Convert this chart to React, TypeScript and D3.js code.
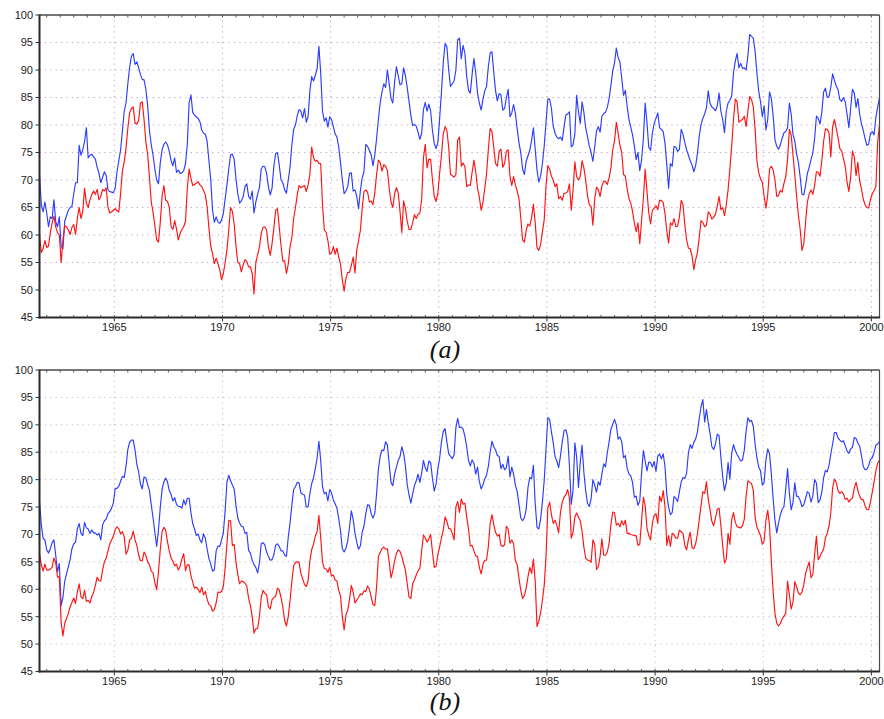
import React from "react";
import * as d3 from "d3";

// Monthly series, July 1961 through May 2000 (467 values each).
const START_YEAR = 1961.5;

const blueA: number[] = [
  71, 65.5, 64.2, 66, 64, 61.5, 63.3, 63, 66.4, 62.4,
  61.5, 63.3, 58, 57.5, 62.5, 63.5, 64.5, 65, 65.2, 67.5,
  69.5, 69.5, 76.3, 74.5, 75.5, 77, 79.5, 74, 74.5, 74.7,
  74.2, 73.8, 72.3, 71.2, 69.5, 70.5, 71.5, 70.8, 68.2, 67.9,
  67.8, 67.7, 68.5, 71.5, 73.5, 75.5, 79, 82.5, 84, 87.5,
  90.5, 92.5, 93, 91, 91.5, 90.4, 89.2, 88.3, 88.2, 86.5,
  83.5, 79, 76.4, 74.5, 72, 70, 69.3, 73.1, 75.5, 76.5,
  76.9, 76.4, 75.2, 73.5, 72.6, 74, 71.4, 71.8, 71.2, 71.3,
  71.7, 73, 76.5, 84, 85.5, 82.3, 81.8, 81.5, 81.2, 80.6,
  79.1, 78.5, 78.3, 77, 73.5, 70, 64.5, 62.3, 63.3, 62.4,
  62.1, 62.7, 63.9, 66.6, 69.2, 72, 74.6, 74.7, 73.8, 70.2,
  67.5, 65.8, 66.2, 67, 68.8, 69.3, 67, 66.5,
  68, 64, 66, 67.4, 68.6, 72, 72.5, 72.4, 71.2, 68.7,
  67.3, 68.5, 72.5, 74.8, 75, 72.7, 70, 69.5, 68.2, 67.6,
  70, 72.4, 76.4, 79.2, 80, 81.7, 82.8, 82.5, 81.3, 83,
  80.5, 81.5, 86.2, 88.8, 88, 89, 90.2, 94.3, 89.5, 82.5,
  80.7, 81.3, 79.6, 81.5, 81, 79.7, 78.4, 77.8, 76, 73.2,
  70, 67.5, 68, 68.8, 71.2, 71.3, 68, 68.2, 67, 64.8,
  68, 70.4, 71.5, 76.5, 76.1, 75.4, 74.6, 72.6, 74.5, 77.5,
  81, 84, 86, 87.5, 86.8, 90, 87.5, 84.8, 84, 87.8,
  90.6, 89, 87.3, 87.5, 90.4, 89, 86.8, 84.3, 81.8, 79.9,
  80.1, 79.8, 78.7, 77.4, 78.5, 82.8, 84.1, 82.5, 83.8, 82.5,
  79, 76.6, 75.7, 76.8, 81.3, 86, 91.4, 94.8, 94.2, 90,
  87, 87.5, 88, 90, 95.5, 95.8, 92, 94.5, 93, 88.8,
  86.3, 85.8, 89.2, 92.1, 89.5, 85.8, 84, 82.7, 84.6, 86.2,
  87, 90.6, 93.1, 93.3, 89.6, 86.2, 84.4, 85.7, 85.5, 82.7,
  83, 84.9, 86.5, 81.5, 82.2, 83.7, 82.1, 79.3, 76.8, 74.9,
  72, 71, 73.4, 74.4, 75.4, 77.2, 79.5, 75.6, 71.8, 69.6,
  70.7, 73, 76.2, 80.5, 84.7, 84.7, 83, 79.8, 78.5, 77.8,
  77.5, 77.8, 77.2, 79.6, 81.8, 82, 82.4, 76, 76.4, 78.4,
  85.4, 82.4, 80.3, 84.2, 82.3, 79.5, 77.9, 76.2, 75, 73.4,
  76, 78.9, 79.7, 78.7, 81.6, 82.1, 82.3, 83.2, 84.8, 87.2,
  89.8, 91.3, 94, 92.3, 91.4, 88.5, 85.4, 86.3, 83.4, 81,
  79.6, 78.2, 76.2, 73.7, 75, 71.7, 73.6, 77.5, 84, 80.5,
  75.9, 75.4, 78.5, 80.3, 81.2, 82.2, 79.5,
  79.2, 78.8, 76.7, 72.8, 68.5, 73, 72.5, 76.1, 76, 75.2,
  75.6, 79.2, 78.3, 76.8, 75.5, 74.5, 73.5, 72.7, 71.5, 72.6,
  74.8, 78, 80.1, 81.2, 82, 83.1, 86.2, 83.9, 83.3, 83,
  82.6, 83.5, 85.8, 82.5, 81, 78.6, 82.5, 84, 84.5, 85.3,
  89.5, 91.6, 93, 90.4, 91.2, 90.3, 90.4, 90, 92.6, 96.5,
  96.1, 95.8, 93.4, 89.4, 86.1, 84.2, 81.5, 83.5, 79.1, 81,
  86, 84.8, 81.7, 77.3, 76.1, 75.6, 76.4, 77.6, 78.6, 78.8,
  79.5, 84, 82, 78.3, 77.1, 74.8, 73.2, 70.5, 67.4, 67.3,
  69, 71.2, 72.3, 73.7, 74.9, 77.5, 81.6, 81.2, 80.2, 82.3,
  86, 86.7, 85, 85.2, 86.9, 89.3, 88.1, 87.1, 86.4, 84.6,
  84.3, 85, 84.2, 82, 79.5, 83, 86.5, 85.8, 83.2, 84.8,
  82, 80.2, 79, 77.5, 76.3, 76.5, 78.5, 78.8, 78.2, 81.4,
  83.3, 85,
];

const redA: number[] = [
  60, 56.8, 57.5, 59, 57.7, 58, 60.4, 62.2, 63.4, 61.5,
  60.4, 60, 55, 59, 61.7, 61.5, 60.9, 60.1, 61.4, 61.9,
  60.1, 63, 65, 63, 64.3, 68.5, 65.8, 65, 66.4, 67.3,
  68, 67.4, 68.3, 66.4, 67, 68.3, 68, 68.6, 65, 64,
  64.2, 64.5, 64.8, 64.4, 64.2, 67.6, 71.7, 73.3, 75.8, 79.4,
  82.2, 83, 83.3, 80.3, 80.2, 80.8, 84, 84.2, 81, 76.9,
  74.7, 70.5, 66, 64.1, 61.7, 59.1, 58.7, 62.3, 67, 69,
  66.3, 66.1, 65, 61.5, 61, 62.6, 61.1, 59.1, 60.3, 61,
  61.5, 62.5, 68.5, 72, 70.3, 69, 69.2, 69.4, 69.7, 69.1,
  68.8, 68.1, 67.3, 65.1, 61.2, 58, 56.6, 54.8, 55.8, 54.8,
  53.7, 51.9, 53, 55, 57.3, 61, 65, 64.3, 62, 58,
  55, 54.8, 53.3, 54.6, 55.5, 55.2, 54.2, 54.2,
  53, 49.3, 55, 56.4, 57.8, 60.3, 61.4, 61.5, 60.9, 57.8,
  56.3, 58.4, 61.2, 64.5, 64.8, 61.5, 58, 55.3, 55.3, 53,
  54.7, 57.9, 59.5, 63, 65, 67.3, 69, 68.6, 68.8, 69,
  67.9, 69.1, 71, 76, 74.1, 73.4, 73.6, 73, 73, 65.5,
  60.9, 60.5, 59, 56.5, 56.7, 57.9, 56.5, 57.6, 56, 54.7,
  51.8, 49.8, 52.1, 53.2, 53.2, 54.5, 56, 53.1, 57.2, 59,
  60.8, 64.8, 67.9, 68.2, 67.8, 66, 66.2, 65.5, 67.6, 71,
  73.6, 73.2, 71.6, 72.8, 72.5, 71.7, 68.5, 66, 65, 67.5,
  68.6, 67.7, 64.3, 60.4, 66.2, 64.8, 62.5, 61, 61, 62.2,
  63.7, 63, 63.8, 63.9, 66.4, 74, 76.5, 72.2, 73.8, 73.7,
  70, 67, 66.1, 67.6, 71.3, 74.5, 78.4, 79.7, 79, 76,
  71, 70.8, 70.5, 71, 77.3, 77.8, 72.5, 73.1, 72.4, 68.8,
  69.1, 69, 71.4, 73.6, 71.5, 68.5, 66.9, 64.5, 65.9, 68.4,
  71.1, 75.5, 79.4, 78.8, 75.9, 73, 72.5, 75.2, 75.6, 72.3,
  73, 75.2, 75.5, 70.6, 69, 70.6, 69.1, 68, 66.6, 63.1,
  59.1, 58.7, 60.9, 62, 61.6, 63.2, 65.6, 62.2, 57.7, 57.2,
  58.3, 60.6, 62.8, 69, 72.6, 72, 70.7, 70, 68.8, 69.3,
  66.6, 67, 66.3, 67.6, 67.6, 67.9, 69.3, 64.5, 68.2, 73.3,
  70.6, 70, 70.7, 73.5, 72.2, 70, 67.2, 65.5, 65.2, 61.8,
  66.5, 68.7, 68.2, 67, 68.9, 69.8, 69.7, 69.2, 70.4, 72.2,
  75.5, 77.1, 80.5, 78.5, 76.3, 75, 71, 70.7, 68.4, 66.6,
  65.8, 64.3, 62.2, 60.6, 62.2, 58.4, 62.6, 66.6, 72, 68,
  64, 62, 64.5, 64.9, 65.3, 64.6, 66.3,
  66.3, 65.9, 63.9, 60.7, 58.5, 62.2, 61.8, 63, 61.5, 61.6,
  63.3, 66.3, 65.5, 61.8, 59.1, 57.6, 57.5, 56.2, 53.7, 55.5,
  56.8, 59.6, 62.6, 62.3, 61.5, 61.8, 64.2, 63.8, 62.9, 63.2,
  63.8, 65.2, 67, 64.6, 65, 63.5, 65.5, 68.2, 72, 76.2,
  81, 84.7, 84.2, 80.5, 80.8, 81, 81.6, 79.7, 82.5, 85.2,
  84.6, 83.3, 79.2, 73.5, 71.3, 70.2, 69.6, 67, 64.9, 67.3,
  72, 72.5, 71.8, 70, 67, 67.2, 68.1, 67.8, 69.4, 70.6,
  73.8, 79.2, 78.2, 74.6, 71, 67.1, 63.6, 61, 57.2, 58.4,
  62.4, 66, 67.5, 68.2, 67.4, 69, 71.5, 71.4, 70.7, 73.5,
  77, 79.3, 79.2, 78.6, 74.2, 79.7, 81, 79.4, 77.7, 75.7,
  75.3, 73.9, 72.5, 69.6, 67.9, 70.5, 75.3, 74.2, 70.8, 73.2,
  69.8, 68.4, 66.5, 65.5, 65, 64.9, 66.5, 67.5, 68.1, 68.8,
  77, 80,
];

const blueB: number[] = [
  76, 71.8, 69.3, 69, 67.2, 66.6, 67.4, 68.5, 69, 66.2,
  63.2, 64.7, 57, 58.5, 61.5, 62.8, 64.1, 65.4, 67.4, 68.3,
  68.6, 71, 72, 70.2, 69.8, 72.2, 71.2, 71, 70.2, 70.8,
  70.3, 70.3, 69.9, 70.2, 69, 71.7, 72.5, 72.8, 73.8, 74.2,
  74.8, 75.8, 78.4, 78.4, 78.8, 79.7, 80.6, 80.4, 82.4, 85.5,
  86.8, 87.2, 87.2, 85.4, 82.8, 81.4, 79.2, 78.3, 80.5, 80.3,
  79.1, 78, 75.4, 73, 70.4, 67.8, 70.8, 74.9, 78.2, 79.6,
  80.3, 79.6, 78, 77.3, 76.1, 76.7, 75.5, 75.1, 75.1, 74.8,
  76.3, 75.4, 76.6, 76.6, 74, 72, 71, 69.8, 70.1, 69,
  68.5, 70.1, 69.3, 67.3, 65.6, 64.6, 63.3, 63.5, 67, 67.9,
  67.8, 69, 70.3, 74.4, 79.6, 80.8, 79.8, 79, 78.3, 75.3,
  73, 72.1, 71.5, 71.4, 70.2, 70.4, 67.1, 66.6,
  65.3, 64.5, 64, 63, 64.8, 68.3, 68.5, 68.1, 66.8, 66,
  65.3, 65.4, 66.3, 68, 68.3, 67.8, 67, 67, 66.2, 66,
  69.5, 72.1, 75.4, 78.2, 78.7, 79.5, 79.4, 77.6, 77.3, 77.2,
  75, 75, 77.4, 79.3, 80.3, 82, 83.9, 87, 83.5, 78.7,
  77.4, 77.7, 76.1, 78.2, 77.6, 76.3, 75.6, 74.8, 72.9, 70.6,
  67.4, 66.8, 67.5, 68.8, 71.4, 74.3, 72.8, 70.3, 68.6, 67.3,
  67.9, 70.4, 71.5, 73.8, 75.4, 75.3, 73.8, 73, 73.8, 77.4,
  81.9, 84.3, 85.4, 85.3, 86.9, 86.3, 82.9, 79.5, 78.9, 81,
  82.3, 83.5, 84.2, 86, 84.8, 82.5, 79.1, 77.2, 75.7, 77.4,
  78.9, 79.8, 81, 79.5, 81.2, 83.5, 82.2, 81.5, 83.4, 83.1,
  80.2, 77.9, 79.2, 82, 83.9, 86.9, 88.8, 89.3, 86.9, 84.7,
  84.3, 83.8, 84.5, 89.5, 91.2, 89.5, 89.6, 89.2, 87.9, 86,
  83.5, 82.5, 83.6, 83, 81, 82.3, 79.7, 78.3, 79, 80.1,
  80.8, 82.4, 85, 87, 86, 85.4, 84.4, 84.2, 82, 82.8,
  81.8, 82.2, 84.3, 80.5, 82.3, 81, 79, 77.8, 75.5, 73,
  72.5, 73, 74.6, 78.6, 80.4, 80.2, 82.6, 75.6, 71.3, 71,
  72.8, 75.9, 79.9, 85.6, 91.3, 91, 88.7, 86.7, 84.2, 83.4,
  82.2, 84.3, 86.9, 88.9, 89.1, 87.8, 82.5, 75.5, 78.1, 86.7,
  84.1, 78.6, 83.2, 86.3, 81.3, 78, 75.7, 75.1, 76.5, 80,
  79, 77.7, 79.6, 79, 81, 82.9, 82.3, 84.9, 86.9, 89.2,
  90.1, 91, 90, 87.4, 87.8, 86.9, 84, 84.4, 82.1, 81,
  80.7, 79.5, 76.8, 77, 75.3, 76.1, 81.1, 85.3, 83.4, 81.6,
  83.2, 83.1, 82.3, 83.3, 81.5, 84.3, 84.7,
  83.8, 84.7, 82.4, 77.3, 75, 73.6, 74, 76.9, 76.6, 76,
  77.8, 79.6, 80.4, 80.2, 81.2, 84.9, 86.4, 85.7, 86.8, 87.4,
  88.7, 91.2, 93.3, 94.6, 90.5, 92.8, 90.4, 88.4, 86, 85.5,
  86.5, 88.3, 88, 84.1, 80.5, 78, 79.4, 83.1, 80.1, 84.8,
  86.4, 85.3, 84.6, 84, 83.4, 83.6, 85.4, 88.9, 91.3, 90.6,
  90.8, 89.7, 86.4, 84, 82.3, 81.6, 79, 79.5, 83.6, 85.6,
  84.7, 81, 76.5, 72.6, 70.3, 72.1, 73.6, 74.6, 75.1, 78.3,
  82, 77.5, 74.5, 75.8, 79.4, 77, 76.9, 76.2, 75.1, 75.4,
  76.6, 77.8, 77.5, 75.9, 77, 80, 79.4, 75.8, 76.3, 77.7,
  80.3, 81.7, 81.4, 82.6, 84.7, 86.5, 88.6, 88.6, 87.6, 87.2,
  86.9, 87.1, 86.2, 85.2, 84.8, 85.6, 85.9, 87.7, 87.5, 86.7,
  86.1, 84.4, 82.4, 81.8, 81.9, 82.6, 83.7, 84, 85, 86.3,
  86.5, 87,
];

const redB: number[] = [
  66.5, 64.5, 63.3, 64.6, 63.5, 63.5, 63.7, 64, 65.7, 64.8,
  62.2, 62.3, 54, 51.5, 53.8, 54.7, 55.6, 56.8, 57.6, 58.4,
  57.4, 59.5, 61, 58.6, 58.3, 59.8, 57.8, 58, 57.5, 58.7,
  59.4, 60.7, 62.2, 61.6, 61.5, 63.5, 65, 65.7, 67, 68.3,
  69, 69.7, 70.9, 71.4, 71, 70.1, 70.5, 69.6, 66.4, 67.1,
  69, 69.3, 70.6, 69, 68, 66.3, 65.2, 65.2, 66.8, 66.2,
  65, 64.5, 63.3, 63, 61.2, 59.9, 63.2, 67.2, 70.5, 71.3,
  70.8, 68.7, 67, 65.7, 65.1, 64.3, 64.6, 63.5, 64.2, 65.5,
  66.5, 63.4, 64.5, 64.4, 62.5, 61.3, 60.2, 60.4, 60, 59.4,
  60.4, 59, 59.6, 58.2, 57.2, 57, 56, 56.3, 57.5, 59.5,
  59.4, 59.6, 60.5, 63.9, 68.3, 72.6, 72.5, 68, 68.2, 65,
  62.7, 61, 61.5, 61.4, 61.1, 60.6, 58.4, 57,
  55, 52, 52.8, 52.8, 55, 58.5, 59.8, 59.3, 59, 56.8,
  56.4, 58.1, 58.5, 58.7, 60.2, 59.9, 58.5, 56.7, 54.3, 53.3,
  55, 58, 61.4, 64.3, 64.9, 65, 64.9, 62.9, 61.9, 60.9,
  60.5, 61.5, 65.2, 67.2, 68.2, 69.7, 70.5, 73.5, 69.4, 65,
  63.8, 63.7, 63.1, 64, 62.4, 62.6, 61.7, 61.5, 59.8, 58.8,
  55, 52.6, 55.3, 56.2, 58.2, 60.7, 59.5, 57.5, 58, 58.5,
  59.2, 59, 59.7, 59.6, 60.6, 60, 58.6, 57.2, 57, 60.3,
  66, 66.7, 67.4, 67.7, 67.3, 67.4, 65, 62.1, 63.3, 65.2,
  66.5, 67.2, 66.9, 66, 64.7, 63.5, 61, 58.6, 58.3, 61,
  61.7, 62.6, 63.4, 63.8, 66.9, 69.9, 69.4, 68.6, 69.2, 70,
  66.8, 64, 64.2, 66.3, 67.8, 69.4, 70.8, 73.2, 72.4, 71.1,
  71, 70.2, 69, 75, 76, 74, 76.5, 75.5, 75.7, 73.2,
  71, 67.9, 68, 67, 66.1, 66, 64, 62.8, 64.5, 65.3,
  65.3, 67.8, 72, 73.6, 71.8, 70.4, 69.7, 70, 68, 67.8,
  68.1, 71.5, 71, 68.4, 69, 68.3, 65.2, 64.5, 62, 59.8,
  58.3, 58.9, 60.2, 62.3, 64, 62.9, 65.5, 61.5, 53.2, 54.2,
  55.7, 58, 60.7, 66, 74.8, 75.9, 73.6, 72, 72.6, 71.7,
  70.3, 74, 75.9, 76.8, 77.2, 78.2, 76.6, 69.3, 70.4, 73.2,
  73.9, 73.2, 72.5, 70.6, 67.7, 65.7, 65.3, 65.3, 64.9, 69,
  68.2, 63.6, 64.1, 66, 69.2, 66.2, 66.2, 66.8, 68.4, 71.8,
  74.1, 74, 71.7, 72, 71.4, 72.5, 71.7, 72.6, 70.2, 70.2,
  70, 69.9, 69.8, 69.8, 68, 68.2, 72.5, 76.8, 75.3, 71.2,
  69.8, 69, 72, 73.5, 73.8, 72, 77,
  76, 78, 75.1, 68, 69.8, 67.8, 70.2, 70, 69.3, 69.3,
  70.8, 70.5, 70.2, 68, 67.2, 69.1, 70.4, 67.6, 67.4, 68.3,
  70.1, 72.7, 75.3, 77.8, 77.5, 79.6, 76.4, 74.5, 72.4, 71.6,
  73, 74.6, 74.8, 71.6, 68, 64.8, 65.5, 70.2, 68.2, 72.7,
  74, 72.2, 71.4, 71.3, 71.2, 71.6, 72.8, 77, 79.8, 79.5,
  79.3, 78, 73.1, 71.3, 70.6, 69.8, 68.2, 68.8, 72.6, 74.4,
  71.6, 65, 59.6, 55.6, 53.8, 53.3, 53.8, 54.6, 55.1, 55.6,
  61.5, 59, 56.4, 57.6, 61.4, 60.5, 59.3, 59, 59.5, 60.8,
  62.9, 64, 65, 62.1, 62.7, 66.3, 69.7, 65.4, 66, 66.7,
  67.3, 69.4, 70.2, 71.5, 74, 78.5, 80.1, 79.5, 78, 77.5,
  77.8, 77.4, 76.4, 76.6, 75.9, 76.4, 76.6, 78.5, 79.5, 78,
  77, 76.4, 76.3, 75.2, 74.5, 74.5, 76, 77.7, 79.6, 81.6,
  83, 83.6,
];

const yTickValues: number[] = [45, 50, 55, 60, 65, 70, 75, 80, 85, 90, 95, 100];
const yearTicks: number[] = [1965, 1970, 1975, 1980, 1985, 1990, 1995, 2000];
const captions: string[] = ["(a)", "(b)"];

const BLUE = "#2a3cff";
const RED = "#ff1212";

// Middle of each month, starting at July 1961.
const dateOf = (i: number) => START_YEAR + (i + 0.5) / 12;

const left = 39.5;
const right = 879.5;

const x = d3
  .scaleLinear()
  .domain([dateOf(0), dateOf(blueA.length - 1)])
  .range([left, right]);

// Minor ticks along the horizontal frame lines.
const minorStep = 0.625;
const minorTicks: number[] = d3
  .range(-6, 58)
  .map((k) => 1965 + k * minorStep)
  .filter((v) => x(v) > left + 2 && x(v) < right - 2);

type PanelProps = {
  top: number;
  bottom: number;
  blue: number[];
  red: number[];
  caption: string;
  captionY: number;
  gridColor: string;
  id: string;
};

function Panel({ top, bottom, blue, red, caption, captionY, gridColor, id }: PanelProps) {
  const y = d3.scaleLinear().domain([45, 100]).range([bottom, top]);
  const line = d3
    .line<number>()
    .x((_, i) => x(dateOf(i)))
    .y((v) => y(v));
  const labelFont = "'Liberation Sans', Arial, sans-serif";

  return (
    <g>
      <defs>
        <clipPath id={`clip-${id}`}>
          <rect x={left} y={top} width={right - left} height={bottom - top} />
        </clipPath>
      </defs>

      {/* dotted grid */}
      {yTickValues
        .filter((v) => v > 45 && v < 100)
        .map((v) => (
          <line
            key={`gy${v}`}
            x1={left}
            x2={right}
            y1={y(v)}
            y2={y(v)}
            stroke={gridColor}
            strokeWidth={1}
            strokeDasharray="1.2,4.2"
          />
        ))}
      {yearTicks.map((yr) => (
        <line
          key={`gx${yr}`}
          x1={x(yr)}
          x2={x(yr)}
          y1={top}
          y2={bottom}
          stroke={gridColor}
          strokeWidth={1}
          strokeDasharray="1.2,4.2"
        />
      ))}

      {/* series */}
      <g clipPath={`url(#clip-${id})`} fill="none" strokeLinejoin="round">
        <path d={line(blue) ?? ""} stroke={BLUE} strokeWidth={1.15} />
        <path d={line(red) ?? ""} stroke={RED} strokeWidth={1.15} />
      </g>

      {/* frame */}
      <line x1={left} x2={right} y1={top} y2={top} stroke="#4a4a4a" strokeWidth={1.3} />
      <line x1={right} x2={right} y1={top} y2={bottom} stroke="#4a4a4a" strokeWidth={1.2} />
      <line x1={left} x2={left} y1={top - 0.6} y2={bottom + 1} stroke="#2a2a2a" strokeWidth={2} />
      <line x1={left - 1} x2={right + 0.6} y1={bottom} y2={bottom} stroke="#2a2a2a" strokeWidth={2} />

      {/* minor ticks */}
      {minorTicks.map((v, i) => (
        <g key={`mt${i}`} stroke="#555" strokeWidth={1}>
          <line x1={x(v)} x2={x(v)} y1={top} y2={top + 2.5} />
          <line x1={x(v)} x2={x(v)} y1={bottom} y2={bottom - 2.5} />
        </g>
      ))}

      {/* y axis */}
      {yTickValues.map((v) => (
        <g key={`yt${v}`}>
          <line x1={left - 4} x2={left} y1={y(v)} y2={y(v)} stroke="#333" strokeWidth={1} />
          <text
            x={33}
            y={y(v)}
            dy="0.36em"
            textAnchor="end"
            fontFamily={labelFont}
            fontSize={11}
            fill="#222"
          >
            {v}
          </text>
        </g>
      ))}

      {/* x axis */}
      {yearTicks.map((yr) => (
        <g key={`xt${yr}`}>
          <line x1={x(yr)} x2={x(yr)} y1={bottom} y2={bottom + 4} stroke="#333" strokeWidth={1} />
          <text
            x={x(yr)}
            y={bottom + 13}
            textAnchor="middle"
            fontFamily={labelFont}
            fontSize={11}
            fill="#222"
          >
            {yr}
          </text>
        </g>
      ))}

      <text
        x={445}
        y={captionY}
        textAnchor="middle"
        fontFamily="'Liberation Serif', 'Times New Roman', serif"
        fontStyle="italic"
        fontSize={26}
        fill="#111"
      >
        {caption}
      </text>
    </g>
  );
}

export default function App() {
  return (
    <svg
      width={884}
      height={719}
      viewBox="0 0 884 719"
      style={{ position: "absolute", left: 0, top: 0, background: "#fff" }}
    >
      <rect x={0} y={0} width={884} height={719} fill="#fff" />
      <Panel
        id="a"
        top={15}
        bottom={317.5}
        blue={blueA}
        red={redA}
        caption={captions[0]}
        captionY={358}
        gridColor="#c79bcf"
      />
      <Panel
        id="b"
        top={370}
        bottom={671.5}
        blue={blueB}
        red={redB}
        caption={captions[1]}
        captionY={710}
        gridColor="#bdbdbd"
      />
    </svg>
  );
}
